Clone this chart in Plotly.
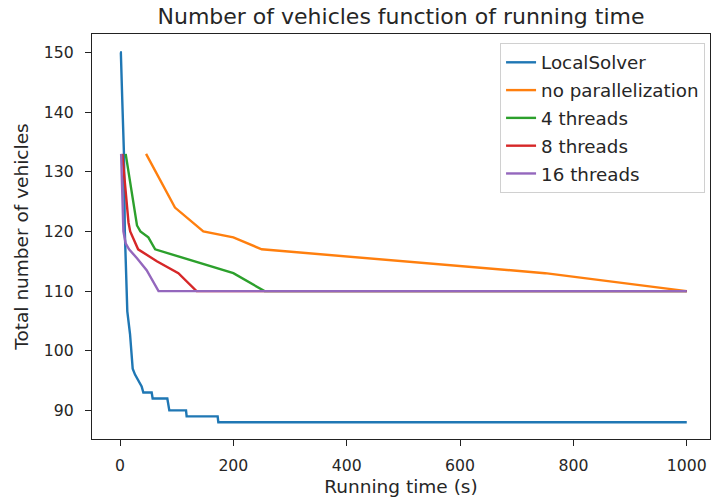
import plotly.graph_objects as go

# ---- data ----
ls_t = [0, 1.5, 4, 7, 8.5, 10.6, 12.9, 17.7, 22.4, 26.5, 32.4, 38.2, 41.2, 55.9, 57.6, 83.5, 87, 116.5, 117.6, 172.3, 173.5, 1000]
ls_v = [150, 150, 142, 133, 120, 112, 106.6, 102.8, 97, 96, 95, 94, 93, 93, 92, 92, 90, 90, 89, 89, 88, 88]

nopar_t = [46, 97, 147, 200, 250, 750, 1000]
nopar_v = [133, 124, 120, 119, 117, 113, 110]

th4_t = [10, 24, 30, 36, 50, 62, 97, 200, 255, 1000]
th4_v = [133, 124, 121, 120, 119, 117, 116, 113, 110, 110]

th8_t = [4, 15, 18, 32, 65, 103, 135, 1000]
th8_v = [133, 121.5, 120, 117, 115, 113, 110, 110]

th16_t = [2, 6, 10, 16, 30, 47, 68, 1000]
th16_v = [133, 120, 118, 117, 115.5, 113.5, 110, 110]

names = ["LocalSolver", "no parallelization", "4 threads", "8 threads", "16 threads"]
colors = ["#1f77b4", "#ff7f0e", "#2ca02c", "#d62728", "#9467bd"]
series = [(ls_t, ls_v), (nopar_t, nopar_v), (th4_t, th4_v), (th8_t, th8_v), (th16_t, th16_v)]

x_ticks = [0, 200, 400, 600, 800, 1000]
y_ticks = [90, 100, 110, 120, 130, 140, 150]

FONT = "DejaVu Sans"
TXT = "#262626"
fig = go.Figure()
for (t, v), n, c in zip(series, names, colors):
    fig.add_trace(go.Scatter(x=t, y=v, mode="lines", name=n, legendgroup=n,
                             line=dict(color=c, width=2.4)))

axis_common = dict(showline=True, linecolor="#222", linewidth=1.1, mirror=True,
                   ticks="outside", ticklen=6, tickwidth=1, tickcolor="#222",
                   showgrid=False, zeroline=False,
                   tickfont=dict(family=FONT, size=15.7, color=TXT))

fig.update_layout(
    width=711, height=503,
    margin=dict(l=92, r=1, t=34, b=64),
    paper_bgcolor="white", plot_bgcolor="white",
    title=dict(text="Number of vehicles function of running time", x=0.5, xanchor="center",
               y=1 - 16 / 503, yanchor="middle", xref="paper",
               font=dict(family=FONT, size=22, color=TXT)),
    xaxis=dict(range=[-49.4, 1041], tickvals=x_ticks, ticklabelstandoff=6,
               title=dict(text="Running time (s)", standoff=6,
                          font=dict(family=FONT, size=18.5, color=TXT)),
               **axis_common),
    yaxis=dict(range=[85.2, 153.1], tickvals=y_ticks, ticklabelstandoff=8,
               title=dict(text="Total number of vehicles", standoff=10,
                          font=dict(family=FONT, size=18.5, color=TXT)),
               **axis_common),
    legend=dict(x=0.992, y=0.978, xanchor="right", yanchor="top",
                bgcolor="rgba(255,255,255,0.8)", bordercolor="#d0d0d0", borderwidth=1,
                font=dict(family=FONT, size=18.3, color=TXT),
                tracegroupgap=1),
    showlegend=True,
)

fig.write_html("out.html")
